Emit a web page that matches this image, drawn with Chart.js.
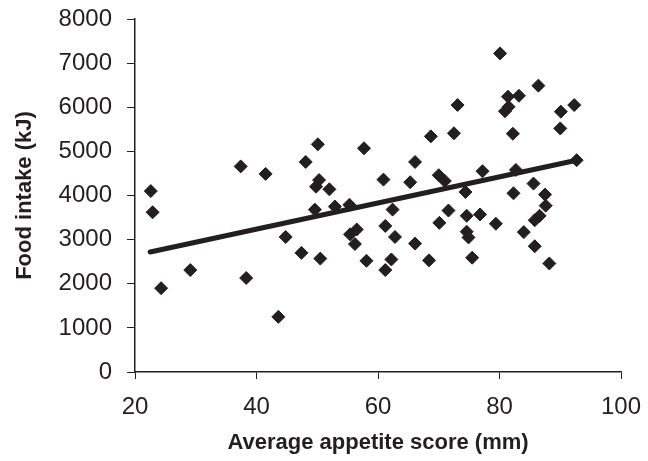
<!DOCTYPE html>
<html>
<head>
<meta charset="utf-8">
<script src="https://cdn.jsdelivr.net/npm/chart.js@4/dist/chart.umd.min.js"></script>
<style>
  html, body { margin: 0; padding: 0; background: #fff; }
  canvas { display: block; }
</style>
</head>
<body>
<canvas id="chart" width="648" height="461"></canvas>
<script>
// average appetite score (mm) and food intake (kJ), one entry per subject
const appetiteScores = [
  22.6, 22.9, 24.3, 29.1, 37.4, 38.3, 41.5, 43.6, 44.8, 47.4,
  48.1, 50.1, 50.3, 49.8, 49.6, 50.5, 52.0, 52.9, 55.3, 57.7,
  55.4, 56.5, 56.2, 58.1, 60.9, 61.2, 62.4, 62.8, 62.2, 61.2,
  65.3, 66.1, 66.1, 68.7, 68.4, 70.0, 71.0, 70.1, 71.6, 72.5,
  73.1, 74.4, 74.6, 74.6, 74.9, 75.5, 76.8, 77.2, 79.4, 80.1,
  80.9, 81.5, 81.4, 83.2, 82.2, 82.7, 82.3, 84.0, 85.6, 85.8,
  86.6, 85.8, 86.4, 87.5, 87.6, 88.2, 90.0, 90.1, 92.3, 92.7
];
const foodIntake = [
  4100, 3620, 1900, 2310, 4660, 2130, 4490, 1250, 3060, 2700,
  4760, 5160, 4350, 4200, 3680, 2570, 4140, 3750, 3790, 5070,
  3120, 3230, 2900, 2520, 4360, 3310, 3680, 3060, 2550, 2310,
  4300, 4760, 2910, 5340, 2530, 4460, 4330, 3380, 3660, 5410,
  6050, 4080, 3540, 3180, 3050, 2590, 3570, 4550, 3360, 7220,
  5910, 6010, 6240, 6260, 5400, 4580, 4050, 3170, 4270, 3440,
  3540, 2850, 6490, 4020, 3770, 2460, 5520, 5900, 6050, 4800
];

// regression line end points
const trendX = [22.5, 92.7];
const trendY = [2720, 4800];

// axis ticks
const xTicks = [20, 40, 60, 80, 100];
const yTicks = [0, 1000, 2000, 3000, 4000, 5000, 6000, 7000, 8000];

const ink = '#231f20';
const tickFont = { family: 'Liberation Sans, Arial', size: 24 };
const titleFont = { family: 'Liberation Sans, Arial', size: 22, weight: 'bold' };

const scatterPoints = appetiteScores.map((x, i) => ({ x: x, y: foodIntake[i] }));
const trendPoints = trendX.map((x, i) => ({ x: x, y: trendY[i] }));

new Chart(document.getElementById('chart'), {
  type: 'scatter',
  data: {
    datasets: [
      {
        type: 'line',
        data: trendPoints,
        borderColor: ink,
        borderWidth: 5,
        pointRadius: 0,
        borderCapStyle: 'round',
        fill: false
      },
      {
        data: scatterPoints,
        pointStyle: 'rectRot',
        pointRadius: 6.5,
        pointBorderWidth: 1,
        backgroundColor: ink,
        borderColor: ink
      }
    ]
  },
  options: {
    responsive: false,
    animation: false,
    layout: { padding: { top: 19, right: 27, bottom: 0, left: 0 } },
    plugins: {
      legend: { display: false },
      tooltip: { enabled: false }
    },
    scales: {
      x: {
        type: 'linear',
        min: xTicks[0],
        max: xTicks[xTicks.length - 1],
        afterBuildTicks: axis => { axis.ticks = xTicks.map(v => ({ value: v })); },
        afterFit: axis => {
          axis.height = 89;
          axis.paddingLeft = 0;
          axis.paddingRight = 0;
        },
        grid: { drawOnChartArea: false, tickLength: 7, color: ink, lineWidth: 1 },
        border: { color: ink, width: 1.5 },
        ticks: { color: ink, padding: 14, font: tickFont, callback: v => String(v) },
        title: {
          display: true,
          text: 'Average appetite score (mm)',
          color: ink,
          padding: { top: 0, bottom: 5 },
          font: titleFont
        }
      },
      y: {
        type: 'linear',
        min: yTicks[0],
        max: yTicks[yTicks.length - 1],
        afterBuildTicks: axis => { axis.ticks = yTicks.map(v => ({ value: v })); },
        afterFit: axis => {
          axis.width = 135;
          axis.paddingTop = 0;
          axis.paddingBottom = 0;
        },
        grid: { drawOnChartArea: false, tickLength: 8, color: ink, lineWidth: 1 },
        border: { color: ink, width: 1.5 },
        ticks: { color: ink, padding: 15, font: tickFont, callback: v => String(v) },
        title: {
          display: true,
          text: 'Food intake (kJ)',
          color: ink,
          padding: { top: 12, bottom: 0 },
          font: titleFont
        }
      }
    }
  }
});
</script>
</body>
</html>
